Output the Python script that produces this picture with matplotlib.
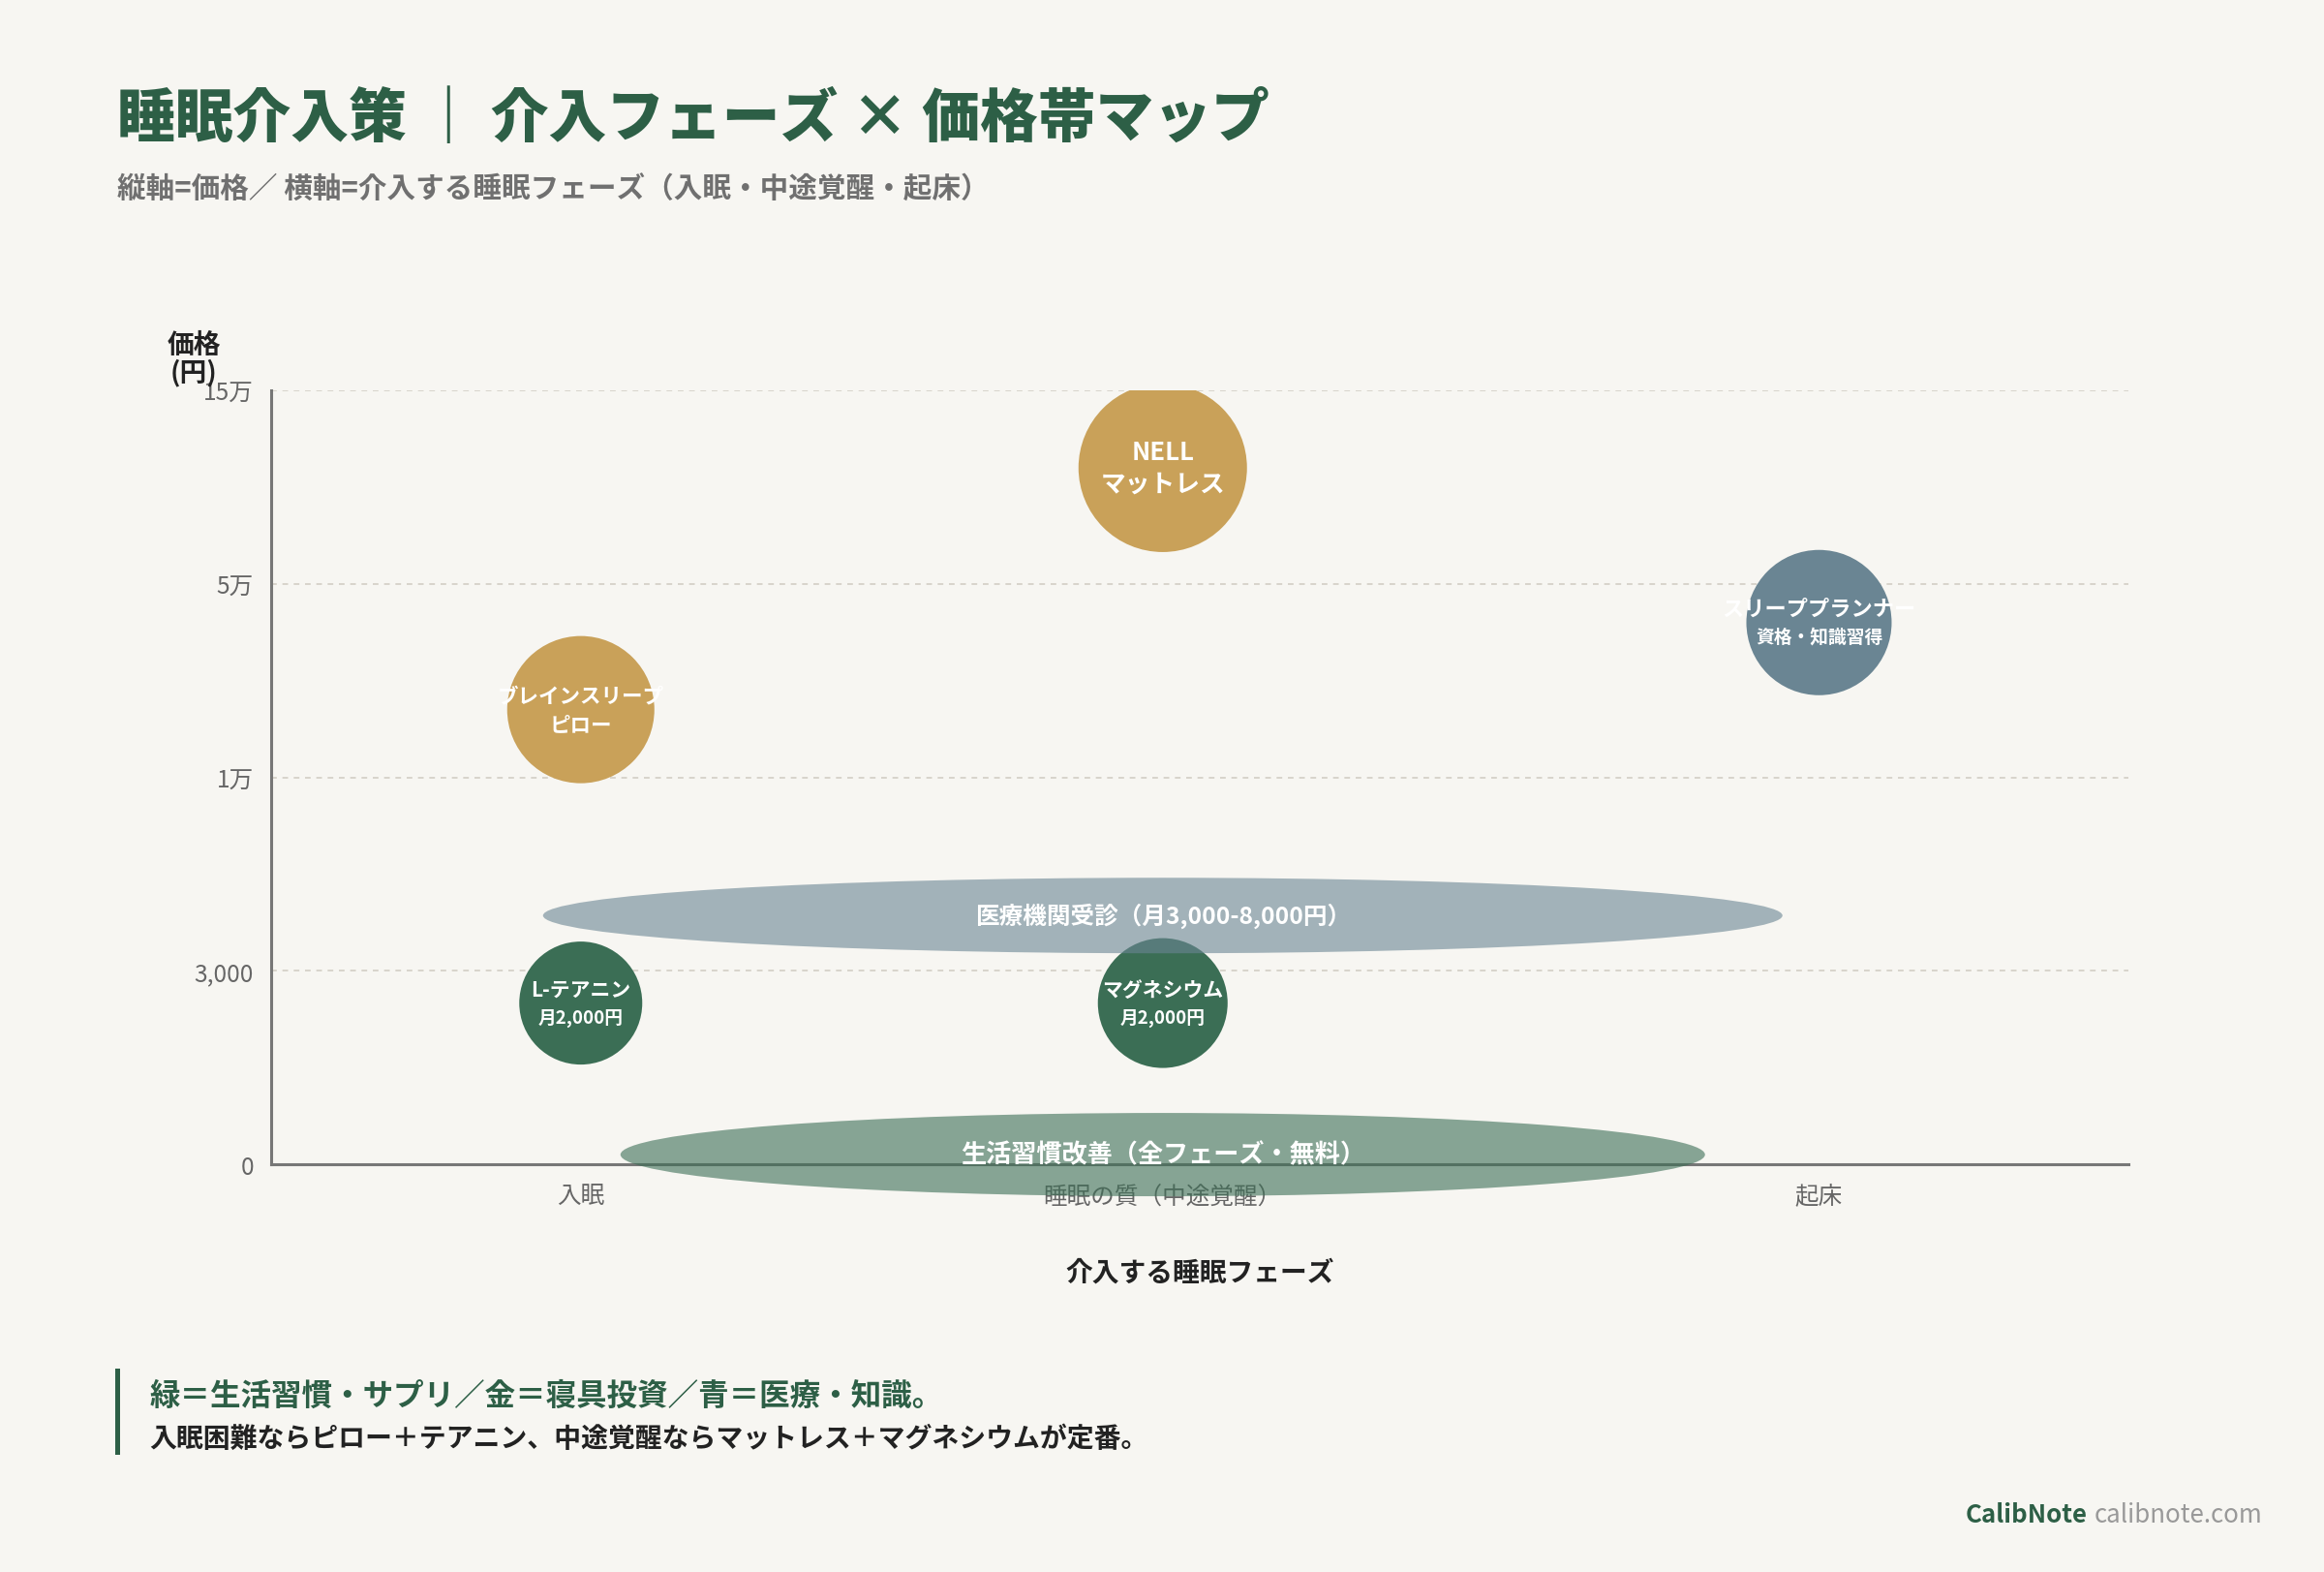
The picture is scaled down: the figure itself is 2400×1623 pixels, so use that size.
import numpy as np
import matplotlib
matplotlib.use("Agg")
import matplotlib.pyplot as plt
from matplotlib.patches import Ellipse, Rectangle
from matplotlib.transforms import ScaledTranslation

plt.rcParams['font.family'] = ['Noto Sans CJK JP', 'DejaVu Sans']

# ---- data ----
phases = ['入眠', '睡眠の質（中途覚醒）', '起床']
phase_pos = [0, 0.94, 2]

price_ticks = [0, 3000, 10000, 50000, 150000]
price_labels = ['0', '3,000', '1万', '5万', '15万']

items = ['NELL', 'ブレインスリープ', 'スリーププランナー', 'L-テアニン', 'マグネシウム']
item_sub = ['マットレス', 'ピロー', '資格・知識習得', '月2,000円', '月2,000円']
item_phase = [1, 0, 2, 0, 1]
item_price = [110000, 24000, 42000, 2500, 2500]
item_group = ['gold', 'gold', 'blue', 'green', 'green']

bands = ['医療機関受診（月3,000-8,000円）', '生活習慣改善（全フェーズ・無料）']
band_phase = [1, 1]
band_price = [5000, 150]
band_group = ['blue', 'green']

# ---- styles ----
BG = '#F7F6F2'
TITLE_GREEN = '#2D5F46'
colors = {'gold': '#C9A159', 'blue': '#6A8593', 'green': '#3B6E55'}
radius_px = [87, 76, 75, 63.5, 67]
name_fs = [18.5, 15.5, 16, 15, 15]
sub_fs = [18.5, 15.5, 13.5, 13.5, 13.5]
line_gap = [23, 21, 21, 21, 21]
band_half_px = [(640, 39), (560, 43)]
band_fs = [17.7, 18.8]

DPI = 100
fig = plt.figure(figsize=(24, 16.24), dpi=DPI, facecolor=BG)
ax = fig.add_axes([0.1167, 0.2592, 0.7992, 0.492])
ax.set_facecolor(BG)

# piecewise scale: equal spacing between tick prices
scale_vals = [-price_ticks[1]] + price_ticks + [price_ticks[-1] * 3]
scale_pos = np.arange(-1, len(scale_vals) - 1)


def fwd(v):
    return np.interp(v, scale_vals, scale_pos)


def inv(p):
    return np.interp(p, scale_pos, scale_vals)


ax.set_yscale('function', functions=(fwd, inv))
ax.set_ylim(0, 150000)
ax.set_xlim(-0.5, 2.5)

ax.set_yticks(price_ticks)
ax.set_yticklabels(price_labels)
ax.set_xticks(phase_pos)
ax.set_xticklabels(phases)
ax.tick_params(axis='both', length=0, labelsize=17.7, labelcolor='#666666')
ax.tick_params(axis='y', pad=13)
ax.tick_params(axis='x', pad=14)
ax.minorticks_off()

ax.grid(axis='y', color='#D8D4CB', linestyle=(0, (3, 3)), linewidth=1.4)
ax.grid(axis='x', visible=False)
ax.set_axisbelow(True)
for s in ['top', 'right']:
    ax.spines[s].set_visible(False)
for s in ['left', 'bottom']:
    ax.spines[s].set_color('#777777')
    ax.spines[s].set_linewidth(2.2)

# bubbles
xs = [phase_pos[i] for i in item_phase]
sizes = [(2 * r * 72 / DPI) ** 2 for r in radius_px]
ax.scatter(xs, item_price, s=sizes, c=[colors[g] for g in item_group],
           linewidths=0, zorder=2)
for i in range(len(items)):
    ax.annotate(items[i], (xs[i], item_price[i]), xytext=(0, line_gap[i] / 2),
                textcoords='offset points', ha='center', va='center',
                color='white', fontsize=name_fs[i], fontweight='bold', zorder=6)
    ax.annotate(item_sub[i], (xs[i], item_price[i]), xytext=(0, -line_gap[i] / 2),
                textcoords='offset points', ha='center', va='center',
                color='white', fontsize=sub_fs[i], fontweight='bold', zorder=6)

# wide bands (size in pixels, centred on data point)
for i in range(len(bands)):
    bx = phase_pos[band_phase[i]]
    w, h = band_half_px[i]
    tr = fig.dpi_scale_trans + ScaledTranslation(bx, band_price[i], ax.transData)
    ax.add_patch(Ellipse((0, 0), 2 * w / DPI, 2 * h / DPI, transform=tr,
                         facecolor=colors[band_group[i]], alpha=0.6,
                         linewidth=0, zorder=3, clip_on=False))
    ax.text(bx, band_price[i], bands[i], ha='center', va='center',
            color='white', fontsize=band_fs[i], fontweight='bold', zorder=6)

# axis labels
fig.text(0.0835, 0.7715, '価格\n(円)', ha='center', va='center', fontsize=20,
         fontweight='bold', color='#222222', linespacing=1.0)
fig.text(0.5163, 0.1905, '介入する睡眠フェーズ', ha='center', va='center',
         fontsize=20, fontweight='bold', color='#222222')

# titles
fig.text(0.0504, 0.9245, '睡眠介入策 ｜ 介入フェーズ × 価格帯マップ', ha='left',
         va='center', fontsize=43, fontweight=900, color=TITLE_GREEN)
fig.text(0.0504, 0.8795, '縦軸=価格／ 横軸=介入する睡眠フェーズ（入眠・中途覚醒・起床）',
         ha='left', va='center', fontsize=21.3, fontweight='bold', color='#707070')

# footer note
fig.patches.append(Rectangle((0.0497, 0.0745), 0.0019, 0.0548,
                             transform=fig.transFigure, facecolor=TITLE_GREEN,
                             edgecolor='none'))
fig.text(0.0644, 0.1122, '緑＝生活習慣・サプリ／金＝寝具投資／青＝医療・知識。',
         ha='left', va='center', fontsize=22.7, fontweight='bold', color=TITLE_GREEN)
fig.text(0.0644, 0.0850, '入眠困難ならピロー＋テアニン、中途覚醒ならマットレス＋マグネシウムが定番。',
         ha='left', va='center', fontsize=20.1, fontweight='bold', color='#222222')

# credit
t_site = fig.text(0.9733, 0.0365, 'calibnote.com', ha='right', va='center',
                  fontsize=18.6, color='#999999')
ax.annotate('CalibNote', xy=(0, 0.5), xycoords=t_site, xytext=(-5, 0),
            textcoords='offset points', ha='right', va='center',
            fontsize=18.6, fontweight='bold', color=TITLE_GREEN,
            annotation_clip=False)

fig.savefig('out.png', dpi=DPI, facecolor=BG)
